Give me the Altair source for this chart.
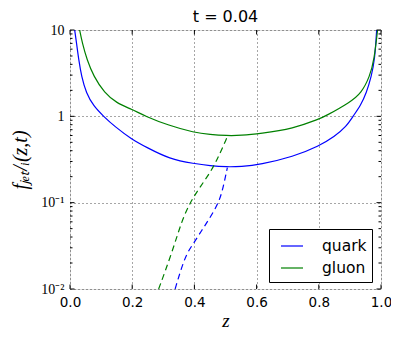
import altair as alt
import pandas as pd

# ---- data ----
z_quark = [0.015, 0.021, 0.028, 0.037, 0.052, 0.076, 0.108, 0.143, 0.2, 0.245,
           0.32, 0.4, 0.45, 0.504, 0.55, 0.611, 0.718, 0.801, 0.85, 0.889,
           0.91, 0.935, 0.953, 0.969, 0.98, 0.986]
f_quark = [10, 7.05, 4.53, 2.9, 1.86, 1.31, 1.0, 0.766, 0.537, 0.44,
           0.32, 0.283, 0.268, 0.259, 0.262, 0.276, 0.34, 0.453, 0.58, 0.766,
           1.0, 1.35, 1.86, 2.9, 4.53, 10]

z_gluon = [0.031, 0.0395, 0.0546, 0.076, 0.111, 0.149, 0.2, 0.243, 0.316, 0.4,
           0.45, 0.504, 0.55, 0.611, 0.718, 0.804, 0.82, 0.9, 0.937, 0.964,
           0.978, 0.989]
f_gluon = [10, 7.05, 4.53, 2.9, 1.86, 1.43, 1.2, 1.0, 0.787, 0.647,
           0.615, 0.597, 0.6, 0.63, 0.72, 0.94, 1.0, 1.45, 1.86, 2.9,
           4.53, 10]

z_quark_dash = [0.338, 0.356, 0.375, 0.397, 0.424, 0.445, 0.479, 0.493, 0.506]
f_quark_dash = [0.01, 0.0165, 0.0258, 0.0336, 0.048, 0.0625, 0.1, 0.152, 0.255]

z_gluon_dash = [0.285, 0.327, 0.36, 0.386, 0.418, 0.456, 0.482, 0.504]
f_gluon_dash = [0.01, 0.0258, 0.0625, 0.1, 0.152, 0.237, 0.37, 0.56]

partons = ["quark", "gluon"]
colors = ["#0000ff", "#008000"]
title_text = ["t = 0.04"]

x_ticks = [0.0, 0.2, 0.4, 0.6, 0.8, 1.0]
y_ticks = [0.01, 0.1, 1, 10]
y_minor = [0.02, 0.03, 0.04, 0.05, 0.06, 0.07, 0.08, 0.09,
           0.2, 0.3, 0.4, 0.5, 0.6, 0.7, 0.8, 0.9,
           2, 3, 4, 5, 6, 7, 8, 9]

W, H = 311, 259

solid = pd.DataFrame({
    "z": z_quark + z_gluon,
    "f": f_quark + f_gluon,
    "parton": ["quark"] * len(z_quark) + ["gluon"] * len(z_gluon),
})
dq = pd.DataFrame({"z": z_quark_dash, "f": f_quark_dash})
dg = pd.DataFrame({"z": z_gluon_dash, "f": f_gluon_dash})

xscale = alt.Scale(domain=[0, 1], nice=False, zero=False)
yscale = alt.Scale(type="log", domain=[0.01, 10], nice=False)

xaxis = alt.Axis(values=x_ticks, format=".1f", title="z", ticks=False, domain=False,
                 labelFont="DejaVu Sans", labelFontSize=13.5, labelColor="black",
                 labelPadding=6, titleFont="Liberation Serif", titleFontStyle="italic",
                 titleFontWeight="normal", titleFontSize=19, titleColor="black",
                 titlePadding=3, grid=True, gridColor="black", gridDash=[1, 3],
                 gridOpacity=0.7, labelFlush=False)
yaxis = alt.Axis(values=y_ticks,
                 labelExpr="datum.value >= 9 ? '10' : datum.value >= 0.9 ? '1' : datum.value >= 0.09 ? '10⁻¹' : '10⁻²'",
                 title="fⱼₑₜ/ᵢ(z,t)", ticks=False, domain=False,
                 labelFont="Liberation Serif", labelFontSize=14, labelColor="black",
                 labelPadding=6, titleFont="Liberation Serif", titleFontStyle="italic",
                 titleFontWeight="normal", titleFontSize=20, titleColor="black",
                 titlePadding=10, grid=True, gridColor="black", gridDash=[1, 3],
                 gridOpacity=0.7, labelFlush=False)

lines = alt.Chart(solid).mark_line(strokeWidth=1.2, interpolate="basis", clip=True).encode(
    x=alt.X("z:Q", scale=xscale, axis=xaxis),
    y=alt.Y("f:Q", scale=yscale, axis=yaxis),
    color=alt.Color("parton:N", sort=partons,
                    scale=alt.Scale(domain=partons, range=colors),
                    legend=alt.Legend(title=None, orient="none", legendX=199, legendY=199,
                                      fillColor="white", strokeColor="black", padding=5,
                                      symbolType="stroke", symbolSize=484,
                                      symbolStrokeWidth=1.2, symbolOffset=6,
                                      labelFont="DejaVu Sans", labelFontSize=15.5,
                                      labelColor="black", labelOffset=18, rowPadding=1,
                                      cornerRadius=0)),
    detail="parton:N",
)

dash_q = alt.Chart(dq).mark_line(strokeWidth=1.2, interpolate="basis", clip=True,
                                 strokeDash=[6, 4], color=colors[0]).encode(
    x=alt.X("z:Q", scale=xscale), y=alt.Y("f:Q", scale=yscale))
dash_g = alt.Chart(dg).mark_line(strokeWidth=1.2, interpolate="basis", clip=True,
                                 strokeDash=[6, 4], color=colors[1]).encode(
    x=alt.X("z:Q", scale=xscale), y=alt.Y("f:Q", scale=yscale))

minor = pd.DataFrame({"f": y_minor})
major = pd.DataFrame({"f": y_ticks})
xt = pd.DataFrame({"z": x_ticks})

tick_l = alt.Chart(minor).mark_rule(color="black", strokeWidth=1).encode(
    y=alt.Y("f:Q", scale=yscale), x=alt.value(0), x2=alt.value(2.5))
tick_r = alt.Chart(minor).mark_rule(color="black", strokeWidth=1).encode(
    y=alt.Y("f:Q", scale=yscale), x=alt.value(W - 2.5), x2=alt.value(W))
mtick_l = alt.Chart(major).mark_rule(color="black", strokeWidth=1).encode(
    y=alt.Y("f:Q", scale=yscale), x=alt.value(0), x2=alt.value(4.5))
mtick_r = alt.Chart(major).mark_rule(color="black", strokeWidth=1).encode(
    y=alt.Y("f:Q", scale=yscale), x=alt.value(W - 4.5), x2=alt.value(W))
xtick_b = alt.Chart(xt).mark_rule(color="black", strokeWidth=1).encode(
    x=alt.X("z:Q", scale=xscale), y=alt.value(H - 4.5), y2=alt.value(H))
xtick_t = alt.Chart(xt).mark_rule(color="black", strokeWidth=1).encode(
    x=alt.X("z:Q", scale=xscale), y=alt.value(0), y2=alt.value(4.5))

title = alt.Chart(pd.DataFrame({"label": title_text})).mark_text(
    font="DejaVu Sans", fontSize=16, color="black", align="center", baseline="alphabetic"
).encode(text="label:N", x=alt.value(W / 2), y=alt.value(-8))

chart = alt.layer(lines, dash_q, dash_g, tick_l, tick_r, mtick_l, mtick_r, xtick_b, xtick_t, title).properties(
    width=W, height=H,
    autosize=alt.AutoSizeParams(type="none"),
    padding={"left": 62, "top": 22, "right": 10, "bottom": 43},
).configure_view(stroke="black", strokeWidth=1.2).configure(background="white")

chart.save("out.html", embed_options={"renderer": "svg", "actions": False})
